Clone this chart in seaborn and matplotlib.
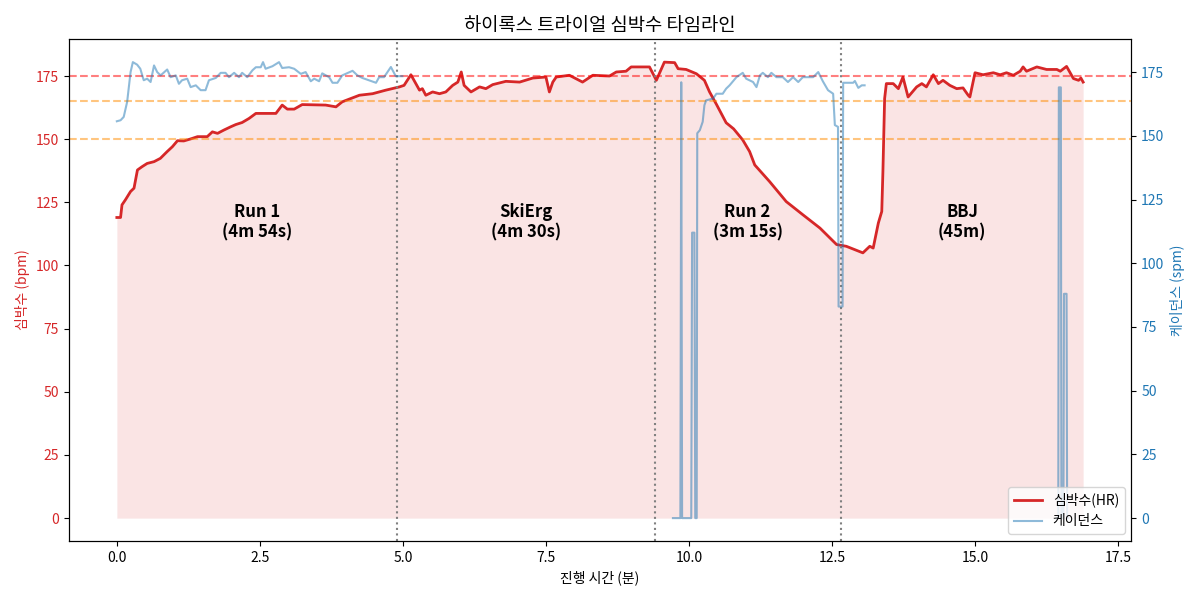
import numpy as np
import pandas as pd
import matplotlib
matplotlib.use("Agg")
import matplotlib.pyplot as plt
import seaborn as sns
from matplotlib.lines import Line2D

plt.rcParams['font.family'] = ['Noto Sans CJK KR', 'DejaVu Sans']
plt.rcParams['axes.unicode_minus'] = False

# ---- Heart rate (minutes, bpm) ----
hr_time = [0.00, 0.065, 0.09, 0.15, 0.24, 0.30, 0.36, 0.44, 0.53, 0.65, 0.76, 0.88, 0.97, 1.06,
           1.17, 1.29, 1.41, 1.58, 1.67, 1.76, 1.87, 1.99, 2.08, 2.19, 2.31, 2.43, 2.57, 2.78,
           2.89, 2.98, 3.10, 3.24, 3.65, 3.83, 3.94, 4.24, 4.47, 4.70, 4.94, 5.02, 5.14, 5.29,
           5.34, 5.40, 5.52, 5.64, 5.75, 5.87, 5.96, 6.02, 6.07, 6.19, 6.34, 6.45, 6.57, 6.80,
           7.04, 7.27, 7.50, 7.56, 7.62, 7.68, 7.91, 8.14, 8.32, 8.61, 8.73, 8.90, 8.99, 9.31,
           9.43, 9.57, 9.75, 9.81, 9.95, 10.13, 10.27, 10.36, 10.48, 10.65, 10.78, 10.94, 11.06,
           11.15, 11.41, 11.70, 11.99, 12.29, 12.58, 12.75, 13.04, 13.16, 13.22, 13.31, 13.37,
           13.39, 13.42, 13.45, 13.57, 13.66, 13.74, 13.83, 13.98, 14.07, 14.15, 14.27, 14.36,
           14.44, 14.56, 14.68, 14.79, 14.88, 14.91, 15.00, 15.14, 15.32, 15.44, 15.55, 15.67,
           15.79, 15.84, 15.90, 16.08, 16.25, 16.43, 16.49, 16.60, 16.72, 16.81, 16.85, 16.89]
hr_bpm = [119, 119, 124, 126, 129.3, 130.6, 137.8, 139.1, 140.4, 141.1, 142.4, 145.1, 147.0, 149.4,
          149.3, 150.1, 151.0, 151.0, 152.9, 152.3, 153.6, 154.9, 155.8, 156.6, 158.2, 160.2, 160.2, 160.2,
          163.5, 161.9, 161.9, 163.7, 163.5, 162.8, 164.8, 167.4, 168.0, 169.4, 170.7, 171.3, 175.5, 169.4,
          170.0, 167.4, 168.7, 168.0, 168.7, 171.3, 172.6, 176.6, 171.3, 168.7, 170.7, 170.0, 171.6, 172.9,
          172.6, 174.2, 174.6, 168.7, 172.6, 174.6, 175.3, 172.6, 175.3, 175.0, 176.6, 176.9, 178.6, 178.6,
          173.3, 180.5, 180.3, 177.9, 177.6, 175.9, 173.3, 168.7, 163.8, 156.5, 154.1, 149.7, 145.1,
          139.8, 133.2, 125.3, 120.1, 114.8, 108.3, 107.6, 105.0, 107.6, 106.9, 116.8, 121.4,
          137.2, 166.1, 172.0, 172.0, 170.0, 174.6, 166.7, 170.7, 172.0, 170.7, 175.5, 172.0,
          173.3, 171.3, 170.0, 170.3, 167.4, 166.7, 176.3, 175.5, 176.3, 175.5, 176.3, 175.3,
          176.9, 178.6, 176.9, 178.6, 177.6, 177.6, 176.9, 178.8, 174.0, 173.3, 174.2, 172.6]

# ---- Cadence (minutes, spm), three recorded segments ----
cad1_time = [0.00, 0.065, 0.12, 0.18, 0.24, 0.28, 0.355, 0.41, 0.47, 0.53, 0.59, 0.65, 0.705, 0.765,
             0.88, 0.94, 1.03, 1.085, 1.14, 1.23, 1.29, 1.38, 1.465, 1.55, 1.61, 1.73, 1.815, 1.90,
             1.96, 2.05, 2.135, 2.19, 2.28, 2.37, 2.43, 2.515, 2.555, 2.60, 2.72, 2.835, 2.89, 3.01,
             3.10, 3.215, 3.30, 3.39, 3.45, 3.535, 3.59, 3.71, 3.77, 3.855, 3.94, 4.12, 4.205, 4.29,
             4.53, 4.585, 4.67, 4.79, 4.875, 4.99]
cad1_spm = [155.7, 156.1, 157.4, 163.3, 175.0, 178.9, 177.9, 176.3, 171.8, 172.4, 171.1, 177.6, 175.0, 173.7,
            176.0, 173.0, 173.7, 170.4, 171.8, 172.4, 169.1, 169.8, 167.9, 167.9, 171.8, 172.7, 174.7, 174.7,
            173.0, 174.7, 173.0, 174.7, 173.0, 175.7, 176.9, 176.9, 178.9, 176.3, 177.3, 178.9, 176.6, 176.9,
            176.3, 174.3, 175.0, 171.4, 172.4, 171.4, 174.5, 173.0, 170.8, 170.8, 173.7, 175.5, 173.7, 172.7,
            170.8, 173.0, 173.0, 177.0, 173.4, 173.4]

cad2_time = [9.72, 9.85, 9.865, 9.88, 10.04, 10.055, 10.095, 10.11, 10.135, 10.145, 10.19, 10.24, 10.27,
             10.30, 10.42, 10.48, 10.59, 10.65, 10.71, 10.83, 10.94, 11.00, 11.12, 11.18, 11.24, 11.29,
             11.38, 11.44, 11.53, 11.64, 11.73, 11.82, 11.91, 11.99, 12.17, 12.26, 12.34, 12.43, 12.52,
             12.55, 12.605, 12.615, 12.685, 12.695, 12.87, 12.90, 12.96, 13.02, 13.07]
cad2_spm = [0, 0, 171, 0, 0, 112, 112, 0, 0, 151, 152.2, 155.5, 162.0,
            163.9, 164.6, 166.5, 166.5, 168.5, 169.8, 173.0, 174.7, 172.4, 171.1, 169.1, 173.7, 174.7,
            173.0, 174.7, 173.0, 173.0, 171.1, 173.0, 171.1, 173.0, 173.0, 175.0, 171.4, 167.9, 166.5,
            154.2, 153.5, 83, 83, 170.8, 170.8, 171.5, 168.8, 169.8, 169.8]

cad3_time = [16.42, 16.455, 16.465, 16.50, 16.51, 16.545, 16.555, 16.60, 16.61, 16.63]
cad3_spm = [0, 0, 169, 169, 0, 0, 88, 88, 0, 0]

# ---- Segments ----
seg_names = ["Run 1\n(4m 54s)", "SkiErg\n(4m 30s)", "Run 2\n(3m 15s)", "BBJ\n(45m)"]
seg_bounds = [0.0, 4.9, 9.4, 12.65, 16.9]
zone_lines = [175, 165, 150]
zone_colors = ["red", "darkorange", "darkorange"]

hr_df = pd.DataFrame({"time": hr_time, "hr": hr_bpm})
cad_df = pd.concat([
    pd.DataFrame({"time": cad1_time, "cad": cad1_spm, "seg": 1}),
    pd.DataFrame({"time": cad2_time, "cad": cad2_spm, "seg": 2}),
    pd.DataFrame({"time": cad3_time, "cad": cad3_spm, "seg": 3}),
], ignore_index=True)

red = "#d62728"
blue = "#1f77b4"

fig, ax = plt.subplots(figsize=(12, 6), dpi=100)
ax.fill_between(hr_df["time"], hr_df["hr"], 0, color=red, alpha=0.12, linewidth=0)
sns.lineplot(data=hr_df, x="time", y="hr", ax=ax, color=red, linewidth=2,
             estimator=None, sort=False, legend=False)

for y, c in zip(zone_lines, zone_colors):
    ax.axhline(y, color=c, linestyle="--", alpha=0.5, linewidth=1.5)
for b in seg_bounds[1:-1]:
    ax.axvline(b, color="gray", linestyle=":", linewidth=1.5)

for i, name in enumerate(seg_names):
    mid = (seg_bounds[i] + seg_bounds[i + 1]) / 2
    ax.text(mid, 117, name, ha="center", va="center", fontsize=12, fontweight="bold")

ax2 = ax.twinx()
sns.lineplot(data=cad_df, x="time", y="cad", units="seg", ax=ax2, color=blue, alpha=0.5,
             linewidth=1.5, estimator=None, sort=False, legend=False)

ax.set_xlabel("진행 시간 (분)")
ax.set_ylabel("심박수 (bpm)", color=red)
ax.tick_params(axis="y", labelcolor=red)
ax2.set_ylabel("케이던스 (spm)", color=blue)
ax2.tick_params(axis="y", labelcolor=blue)
ax.set_title("하이록스 트라이얼 심박수 타임라인", fontsize=13.5)

handles = [Line2D([0], [0], color=red, linewidth=2),
           Line2D([0], [0], color=blue, alpha=0.5, linewidth=1.5)]
ax2.legend(handles, ["심박수(HR)", "케이던스"], loc="lower right")

fig.tight_layout()
fig.savefig("out.png", dpi=100)
